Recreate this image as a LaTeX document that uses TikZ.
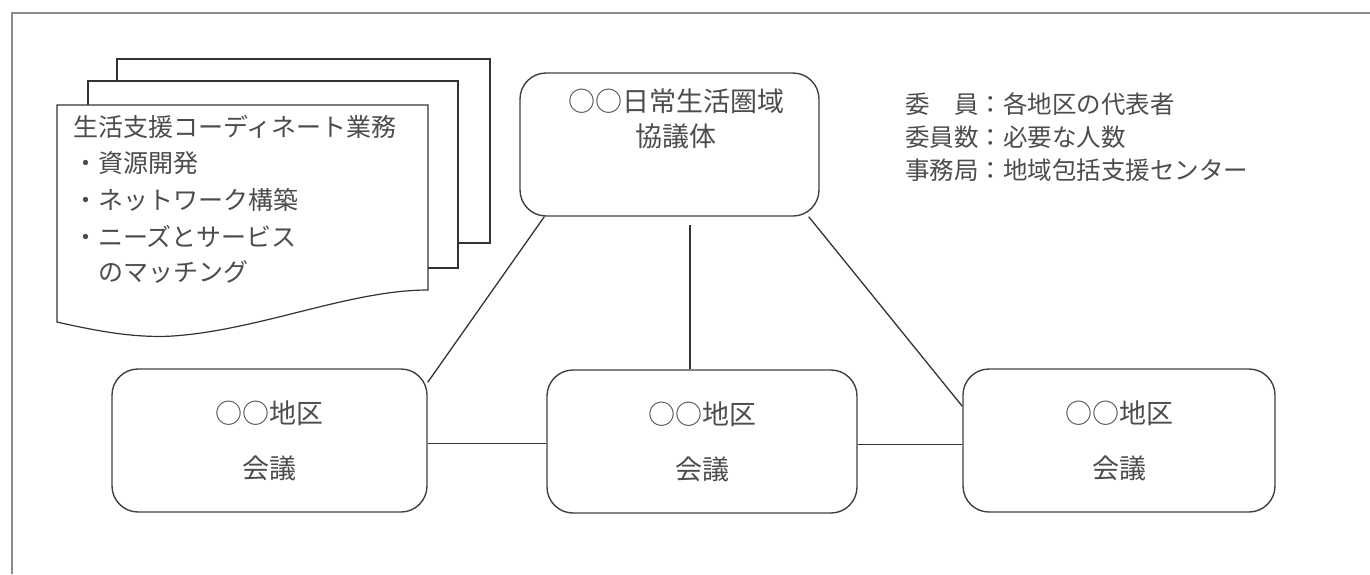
\documentclass[tikz,border=0pt]{standalone}
\usepackage{fontspec}
\setmainfont{Noto Sans CJK JP}
\begin{document}
\begin{tikzpicture}[x=1pt,y=-1pt,
  frameline/.style={draw=black!45, line width=2pt},
  sheet/.style={draw=black!80, line width=1.2pt, line join=miter},
  conn/.style={draw=black!80, line width=1.3pt},
  box/.style={draw=black!75, line width=1.4pt, rounded corners=26pt, inner sep=0pt, align=center, text=black!70},
  sheettxt/.style={anchor=west, inner sep=0pt, text=black!70, font=\fontsize{25}{30}\selectfont},
  infotxt/.style={anchor=west, inner sep=0pt, text=black!70, font=\fontsize{24.5}{30}\selectfont}]
\useasboundingbox (0,0) rectangle (1370,574);
% outer frame
\draw[frameline] (12,574) -- (12,13) -- (1370,13);
% stacked sheets
\draw[sheet] (117,81) -- (117,59) -- (490,59) -- (490,243) -- (458,243);
\draw[sheet] (88,105) -- (88,81) -- (458,81) -- (458,268) -- (428,268);
\draw[sheet, fill=white] (57,105) -- (428,105) -- (428,290)
  .. controls (350,290) and (260,330) .. (173,336)
  .. controls (140,338) and (105,333) .. (57,322) -- cycle;
\node[sheettxt] (s1) at (73,127) {生活支援コーディネート業務};
\node[sheettxt] (s2) at (73,163) {・資源開発};
\node[sheettxt] (s3) at (73,200) {・ネットワーク構築};
\node[sheettxt] (s4) at (73,236) {・ニーズとサービス};
\node[sheettxt] (s5) at (73,272) {　のマッチング};
% boxes
\node[box, minimum width=299pt, minimum height=143pt] (top) at (669.5,144.5) {};
\node[align=center, inner sep=0pt, text=black!70, font=\fontsize{27}{35}\selectfont, anchor=north] (toptext) at (676,89) {○○日常生活圏域\\協議体};
\node[box, minimum width=315pt, minimum height=143pt, font=\fontsize{27}{55}\selectfont] (L) at (269.5,440.5) {○○地区\\会議};
\node[box, minimum width=310pt, minimum height=143pt, font=\fontsize{27}{55}\selectfont] (M) at (702,441.5) {○○地区\\会議};
\node[box, minimum width=312pt, minimum height=143pt, font=\fontsize{27}{55}\selectfont] (R) at (1119,440.5) {○○地区\\会議};
% info text
\node[infotxt] (i1) at (905,104) {委　員：各地区の代表者};
\node[infotxt] (i2) at (905,137) {委員数：必要な人数};
\node[infotxt] (i3) at (905,170) {事務局：地域包括支援センター};
% connectors
\coordinate (vtop) at (690,225);
\draw[conn] ([xshift=25pt]top.south west) -- ([yshift=-14pt]L.north east);
\draw[conn] ([xshift=-11pt]top.south east) -- ([yshift=-38pt]R.north west);
\draw[conn] (vtop) -- (vtop |- M.north);
\draw[conn] ([yshift=-3pt]L.east) -- ([yshift=-3pt]L.east -| M.west);
\draw[conn] ([yshift=-3pt]M.east) -- ([yshift=-3pt]M.east -| R.west);
\end{tikzpicture}
\end{document}
